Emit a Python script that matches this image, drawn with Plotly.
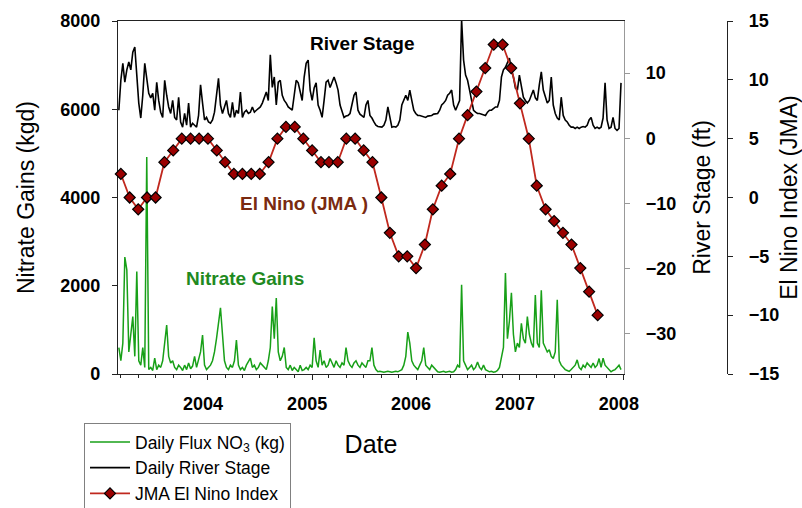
import pandas as pd
import plotly.graph_objects as go

# ---------------- data ----------------
# weekly samples starting 2003-02-22
sample_start = "2003-02-22"

river_stage_ft = [
    4.3, 8.9, 11.5, 8.6, 10.5, 11.7, 10.5, 13.2, 14.0, 8.9,
    5.4, 3.1, 6.6, 11.5, 8.9, 6.9, 6.2, 6.9, 4.3, 8.6,
    5.8, 4.0, 3.2, 8.9, 6.6, 4.8, 3.8, 5.8, 3.2, 2.8,
    6.3, 2.5, 1.7, 3.8, 2.0, 5.4, 1.7, 2.3, 2.0, 1.7,
    3.5, 8.2, 5.4, 2.8, 3.2, 2.5, 2.3, 2.8, 4.0, 6.6,
    9.2, 5.1, 3.8, 4.8, 5.8, 3.8, 3.2, 5.5, 3.2, 4.3,
    3.8, 7.1, 3.2, 4.0, 4.3, 3.8, 4.0, 4.8, 4.0, 4.3,
    4.6, 4.8, 5.4, 6.2, 7.1, 5.8, 12.8, 7.8, 9.4, 5.1,
    8.6, 8.9, 6.6, 5.8, 5.4, 4.8, 4.6, 4.3, 6.6, 8.9,
    8.5, 7.1, 5.8, 9.4, 11.5, 12.0, 7.4, 5.8, 7.7, 8.5,
    5.1, 4.3, 3.2, 5.8, 8.6, 8.9, 7.8, 8.6, 9.4, 8.5,
    7.4, 5.1, 4.0, 3.2, 3.4, 3.5, 3.8, 5.1, 6.6, 7.1,
    4.3, 3.7, 3.4, 3.2, 5.1, 5.8, 3.5, 3.1, 2.5, 2.0,
    1.8, 1.7, 1.7, 2.0, 2.8, 4.8, 3.5, 1.7, 1.8, 1.7,
    2.0, 2.8, 5.1, 5.8, 6.6, 5.8, 7.4, 5.8, 4.3, 3.8,
    3.5, 3.5, 3.4, 3.2, 3.2, 3.4, 3.4, 3.5, 3.7, 3.7,
    3.8, 4.3, 5.1, 5.4, 5.8, 6.6, 6.9, 7.4, 5.1, 4.3,
    5.1, 5.8, 18.2, 12.0, 9.7, 8.9, 7.4, 5.8, 4.3, 4.0,
    3.8, 3.8, 3.7, 3.5, 3.5, 4.0, 4.3, 4.3, 4.6, 4.8,
    4.8, 5.8, 9.4, 10.5, 10.9, 11.7, 12.3, 10.5, 9.4, 7.7,
    7.4, 9.7, 8.2, 6.3, 5.8, 5.4, 5.8, 6.6, 7.4, 6.2,
    5.8, 8.2, 10.2, 7.4, 6.3, 5.4, 5.8, 9.4, 5.1, 3.8,
    3.1, 2.8, 6.3, 3.5, 2.8, 2.5, 2.0, 1.7, 1.7, 1.5,
    1.7, 1.5, 1.7, 1.8, 1.7, 2.0, 2.8, 3.2, 2.0, 1.5,
    1.7, 1.5, 1.7, 3.1, 8.5, 2.8, 1.5, 1.7, 3.2, 1.5,
    1.2, 1.5, 8.5,
]

nitrate_kg = [
    600, 300, 700, 2650, 2360, 500, 900, 1300, 400, 2320,
    300, 200, 600, 150, 4920, 100, 150, 80, 360, 100,
    200, 150, 300, 700, 1110, 400, 250, 300, 150, 100,
    200, 150, 80, 200, 100, 250, 120, 180, 400, 150,
    300, 500, 880, 200, 100, 150, 200, 300, 500, 800,
    1200, 1500, 900, 300, 150, 100, 200, 150, 300, 770,
    200, 100, 150, 80, 200, 300, 360, 150, 200, 100,
    150, 250, 200, 150, 100, 300, 600, 1530, 800, 1720,
    500, 300, 400, 600, 150, 100, 200, 80, 150, 100,
    50, 200, 80, 100, 150, 100, 200, 150, 820, 300,
    150, 540, 200, 300, 150, 200, 350, 250, 150, 300,
    200, 150, 250, 200, 600, 300, 200, 150, 250, 300,
    200, 150, 250, 200, 150, 300, 300, 600, 200, 100,
    50, 60, 50, 40, 50, 60, 50, 40, 50, 60,
    50, 80, 100, 200, 400, 950, 700, 300, 200, 150,
    100, 200, 300, 600, 200, 150, 100, 200, 150, 100,
    50, 40, 50, 60, 40, 50, 60, 40, 50, 100,
    200, 150, 2020, 300, 200, 100, 150, 200, 100, 150,
    270, 150, 100, 200, 100, 80, 50, 60, 40, 50,
    80, 150, 400, 600, 2290, 800, 1200, 1840, 900, 500,
    700, 600, 1150, 800, 700, 1300, 900, 700, 600, 1790,
    700, 600, 1900, 700, 600, 500, 550, 400, 350, 500,
    1680, 300, 200, 150, 100, 80, 60, 100, 150, 200,
    320, 150, 100, 200, 150, 250, 200, 150, 250, 150,
    200, 350, 150, 360, 200, 150, 100, 50, 80, 100,
    150, 200, 100,
]

# monthly JMA El Nino index, starting 2003-03
elnino_start = "2003-03-01"
elnino_jma = [
    2, 0, -1, 0, 0, 3, 4, 5, 5, 5,
    5, 4, 3, 2, 2, 2, 2, 3, 5, 6,
    6, 5, 4, 3, 3, 3, 5, 5, 4, 3,
    0, -3, -5, -5, -6, -4, -1, 1, 2, 5,
    7, 9, 11, 13, 13, 11, 8, 5, 1, -1,
    -2, -3, -4, -6, -8, -10,
]

year_ticks = ["2004-01-01", "2005-01-01", "2006-01-01", "2007-01-01", "2008-01-01"]
year_labels = ["2004", "2005", "2006", "2007", "2008"]
nitrate_ticks = [0, 2000, 4000, 6000, 8000]
stage_ticks = [-30, -20, -10, 0, 10]
jma_ticks = [-15, -10, -5, 0, 5, 10, 15]

# ---------------- figure ----------------
sample_dates = pd.date_range(sample_start, periods=len(river_stage_ft), freq="7D")
nitrate_dates = pd.date_range(sample_start, periods=len(nitrate_kg), freq="7D")
elnino_dates = pd.date_range(elnino_start, periods=len(elnino_jma), freq="MS")

FONT = "Liberation Sans, Arial, Helvetica, sans-serif"
GREEN = "#18a018"
TEXT_GREEN = "#1f8a1f"
RED = "#c0281e"
MARKER_RED = "#9a0000"
BROWN = "#7a2a10"

fig = go.Figure()
fig.add_trace(go.Scatter(
    x=nitrate_dates, y=nitrate_kg, mode="lines", name="Daily Flux NO<sub>3</sub> (kg)",
    line=dict(color=GREEN, width=1.5), yaxis="y",
))
fig.add_trace(go.Scatter(
    x=sample_dates, y=river_stage_ft, mode="lines", name="Daily River Stage",
    line=dict(color="black", width=1.6), yaxis="y2",
))
fig.add_trace(go.Scatter(
    x=elnino_dates, y=elnino_jma, mode="lines+markers", name="JMA El Nino Index",
    line=dict(color=RED, width=1.8),
    marker=dict(symbol="diamond", size=8.5, color=MARKER_RED, line=dict(color="black", width=1.2)),
    yaxis="y3", cliponaxis=False,
))

W, H = 802, 508
L, R, T, B = 118, 2, 21, 134
PW = W - L - R
PH = H - T - B
x_end = (624 - L) / PW
y3_pos = (727 - L) / PW

tickfont = dict(family=FONT, size=18, color="black", weight="bold")
titlefont = dict(family=FONT, size=23, color="black")

fig.update_layout(
    width=W, height=H, autosize=False,
    margin=dict(l=L, r=R, t=T, b=B, pad=0, autoexpand=False),
    paper_bgcolor="white", plot_bgcolor="white",
    font=dict(family=FONT, color="black"),
    showlegend=True,
    legend=dict(
        xref="container", yref="container",
        x=84 / W, y=1 - 423 / H, xanchor="left", yanchor="top",
        bordercolor="#808080", borderwidth=1, bgcolor="white",
        font=dict(family=FONT, size=17.5, color="black"),
        itemwidth=40, tracegroupgap=0,
    ),
    xaxis=dict(
        domain=[0, x_end], type="date",
        range=["2003-02-19", "2008-01-01 12:00"],
        showgrid=False, zeroline=False,
        showline=True, linecolor="#222222", linewidth=1.2, mirror=True,
        ticks="outside", ticklen=5, tickcolor="#222222",
        tickvals=year_ticks, ticktext=year_labels,
        tickfont=tickfont, ticklabelshift=-5, ticklabelstandoff=8,
        minor=dict(ticks="outside", ticklen=3, dtick="M2", tick0="2004-01-01", tickcolor="#222222", showgrid=False),
        title=dict(text="Date", font=dict(family=FONT, size=25, color="black"), standoff=22),
        layer="below traces",
    ),
    yaxis=dict(
        range=[0, 8000], tickvals=nitrate_ticks,
        showgrid=False, zeroline=False,
        showline=True, linecolor="#222222", linewidth=1.2,
        ticks="outside", ticklen=5, tickcolor="#222222",
        tickfont=tickfont, ticklabelstandoff=8,
        layer="below traces",
    ),
    yaxis2=dict(
        overlaying="y", side="right", anchor="x",
        range=[-36.2, 18], tickvals=stage_ticks,
        showgrid=False, zeroline=False,
        showline=True, linecolor="#999999", linewidth=1.2,
        ticks="outside", ticklen=5, tickcolor="#999999",
        tickfont=tickfont, ticklabelstandoff=12,
        title=dict(text="River Stage (ft)", font=titlefont, standoff=18),
    ),
    yaxis3=dict(
        overlaying="y", side="right", anchor="free", position=y3_pos,
        range=[-15, 15], tickvals=jma_ticks,
        showgrid=False, zeroline=False,
        showline=True, linecolor="#222222", linewidth=1.2,
        ticks="outside", ticklen=5, tickcolor="#222222",
        tickfont=tickfont, ticklabelstandoff=12,
        title=dict(text="El Nino Index (JMA)", font=titlefont, standoff=12),
    ),
    annotations=[
        dict(text="Nitrate Gains (kgd)", xref="paper", yref="paper",
             x=(26 - L) / PW, y=(374 - 198) / PH, showarrow=False, textangle=-90,
             xanchor="center", yanchor="middle",
             font=titlefont),
        dict(text="<b>River Stage</b>", xref="paper", yref="paper",
             x=(362 - L) / PW, y=(374 - 43) / PH, showarrow=False,
             xanchor="center", yanchor="middle",
             font=dict(family=FONT, size=19, color="black")),
        dict(text="<b>El Nino (JMA )</b>", xref="paper", yref="paper",
             x=(304 - L) / PW, y=(374 - 203) / PH, showarrow=False,
             xanchor="center", yanchor="middle",
             font=dict(family=FONT, size=19, color=BROWN)),
        dict(text="<b>Nitrate Gains</b>", xref="paper", yref="paper",
             x=(245 - L) / PW, y=(374 - 278) / PH, showarrow=False,
             xanchor="center", yanchor="middle",
             font=dict(family=FONT, size=19, color=TEXT_GREEN)),
    ],
)

fig.write_html("out.html")
